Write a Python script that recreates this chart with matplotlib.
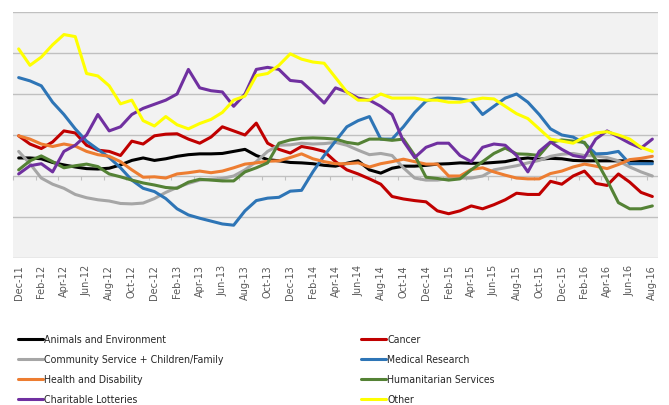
import numpy as np
import pandas as pd
import matplotlib
matplotlib.use("Agg")
import matplotlib.pyplot as plt

# months Dec-11 .. Aug-16
months = pd.date_range("2011-12-01", "2016-08-01", freq="MS").strftime("%b-%y").tolist()

animals = [4.4, 4.4, 4.2, 3.3, 2.7, 2.2, 1.8, 1.7, 1.9, 2.7, 3.8, 4.4, 3.8, 4.2, 4.8,
           5.2, 5.4, 5.4, 5.5, 6.0, 6.5, 5.0, 4.0, 3.7, 3.3, 3.2, 3.0, 2.6, 2.4, 3.1,
           3.7, 1.5, 0.7, 1.9, 2.4, 2.4, 2.6, 2.9, 3.0, 3.2, 3.1, 3.1, 3.3, 3.5, 4.1,
           4.4, 4.1, 4.3, 4.2, 3.8, 3.7, 3.7, 3.7, 3.7, 3.7, 3.6, 3.5]
cancer = [9.8, 7.8, 6.7, 8.3, 11.0, 10.5, 7.5, 6.3, 6.0, 5.0, 8.5, 7.8, 9.8, 10.2, 10.3,
          9.0, 8.0, 9.5, 12.0, 11.0, 10.0, 12.9, 8.0, 6.5, 5.6, 7.2, 6.7, 6.0, 3.5, 1.5,
          0.5, -0.7, -2.0, -5.0, -5.6, -6.0, -6.3, -8.5, -9.2, -8.5, -7.3, -8.0, -7.0, -5.8, -4.2,
          -4.5, -4.5, -1.3, -2.0, 0.0, 1.2, -1.8, -2.3, 0.5, -1.5, -4.0, -5.0]
community = [6.0, 3.0, -0.5, -2.0, -3.0, -4.5, -5.3, -5.8, -6.1, -6.7, -6.8, -6.6, -5.5, -4.0, -2.8,
             -1.8, -1.0, -0.8, -0.6, 0.0, 1.5, 3.5, 6.0, 7.5, 7.6, 8.0, 7.8, 7.9, 8.2, 7.5,
             6.3, 5.2, 5.5, 5.0, 2.0, -0.5, -1.0, -1.0, -0.6, -0.5, -0.5, 0.0, 1.5, 2.0, 2.5,
             3.2, 3.8, 4.8, 5.3, 5.5, 5.0, 4.9, 4.5, 3.7, 2.2, 1.0, 0.0]
medical = [24.0, 23.2, 22.0, 18.0, 15.0, 11.5, 8.5, 6.5, 4.5, 2.0, -1.0, -3.0, -3.8, -5.5, -8.0,
           -9.5, -10.3, -11.0, -11.7, -12.0, -8.5, -6.0, -5.4, -5.2, -3.7, -3.5, 1.0, 5.0, 8.5, 12.0,
           13.5, 14.5, 9.0, 9.0, 12.0, 15.5, 18.3, 19.0, 19.0, 18.8, 18.3, 15.0, 17.0, 19.0, 20.0,
           18.0, 15.0, 11.5, 10.0, 9.5, 8.0, 5.4, 5.5, 6.0, 3.0, 3.0, 3.0]
health = [9.8, 9.0, 7.8, 7.2, 7.8, 7.3, 6.0, 5.2, 4.8, 3.5, 1.5, -0.3, -0.2, -0.5, 0.5,
          0.8, 1.2, 0.8, 1.2, 2.0, 2.9, 3.2, 3.6, 3.7, 4.5, 5.4, 4.2, 3.5, 3.0, 3.0,
          3.2, 2.2, 3.0, 3.5, 4.1, 3.5, 2.9, 2.9, 0.0, 0.0, 1.6, 2.0, 1.0, 0.2, -0.5,
          -0.7, -0.7, 0.6, 1.2, 2.2, 2.9, 2.4, 1.8, 2.8, 4.0, 4.3, 4.8]
humanitarian = [1.5, 3.7, 4.9, 3.5, 2.0, 2.5, 2.9, 2.3, 0.5, -0.2, -1.0, -1.7, -2.2, -2.8, -3.0,
                -1.5, -0.8, -1.0, -1.2, -1.2, 1.0, 2.0, 3.2, 8.0, 8.8, 9.2, 9.3, 9.2, 9.0, 8.2,
                7.8, 9.0, 9.0, 8.7, 9.0, 5.0, -0.3, -0.6, -1.0, -0.7, 1.5, 3.5, 5.5, 6.8, 5.4,
                5.3, 5.0, 8.2, 8.8, 8.5, 8.2, 4.0, -1.0, -6.5, -8.0, -8.0, -7.3]
lotteries = [0.5, 2.5, 3.0, 1.0, 6.0, 7.5, 10.0, 15.0, 11.0, 12.0, 15.0, 16.5, 17.5, 18.5, 20.0,
             26.0, 21.5, 20.8, 20.5, 17.0, 20.0, 26.0, 26.5, 26.0, 23.3, 23.0, 20.5, 17.8, 21.5, 20.5,
             19.0, 18.5, 17.0, 15.0, 8.5, 4.5, 7.0, 8.0, 8.0, 5.0, 3.5, 7.0, 7.8, 7.5, 5.0,
             1.0, 6.0, 8.3, 6.5, 5.0, 4.5, 9.0, 11.0, 9.5, 8.0, 6.8, 9.0]
other = [31.0, 27.0, 29.0, 32.0, 34.5, 34.0, 25.0, 24.4, 22.0, 17.6, 18.5, 13.5, 12.2, 14.5, 12.5,
         11.5, 12.8, 13.8, 15.5, 18.5, 19.5, 24.5, 25.0, 27.0, 29.8, 28.5, 27.8, 27.5, 24.0, 20.5,
         18.5, 18.5, 20.0, 19.0, 19.0, 19.0, 18.5, 18.5, 18.0, 18.0, 18.5, 19.0, 18.8, 17.0, 15.2,
         14.0, 11.5, 9.0, 8.5, 8.0, 9.5, 10.5, 10.8, 10.0, 9.0, 7.0, 6.0]

series = [
    ("Animals and Environment", animals, "#000000"),
    ("Cancer", cancer, "#c00000"),
    ("Community Service + Children/Family", community, "#a6a6a6"),
    ("Medical Research", medical, "#2e75b6"),
    ("Health and Disability", health, "#ed7d31"),
    ("Humanitarian Services", humanitarian, "#548235"),
    ("Charitable Lotteries", lotteries, "#7030a0"),
    ("Other", other, "#ffff00"),
]

fig = plt.figure(figsize=(6.69, 4.05), dpi=100)
ax = fig.add_axes([13 / 669, 1 - 258 / 405, 645 / 669, 246 / 405])
ax.set_facecolor("#f2f2f2")

x = np.arange(len(months))
lines = {}
for name, vals, col in series:
    ln, = ax.plot(x, vals, color=col, lw=2.2, solid_capstyle="round",
                  solid_joinstyle="round")
    lines[name] = ln

ax.set_xlim(-0.5, len(months) - 0.5)
ax.set_ylim(-20, 40)
ax.set_yticks(np.arange(-20, 41, 10))
ax.grid(axis="y", color="#c0c0c0", lw=1)
ax.set_axisbelow(True)
ax.tick_params(axis="y", length=0, labelleft=False)
for s in ax.spines.values():
    s.set_visible(False)

ax.set_xticks(x[::2])
ax.set_xticklabels(months[::2], rotation=90, fontsize=7, color="#595959")
ax.tick_params(axis="x", length=0, pad=5)

# small ticks on the zero line
sec = ax.secondary_xaxis(1 / 3)
sec.set_xticks(np.arange(-0.5, len(months), 2))
sec.tick_params(axis="x", length=3, color="#c0c0c0", labelbottom=False, direction="out")
sec.spines["bottom"].set_visible(False)

leg_font = {"family": "DejaVu Sans", "stretch": "condensed", "size": 7.6}
left_names = ["Animals and Environment", "Community Service + Children/Family",
              "Health and Disability", "Charitable Lotteries"]
right_names = ["Cancer", "Medical Research", "Humanitarian Services", "Other"]
for names, xpos in [(left_names, 18 / 669), (right_names, 361 / 669)]:
    fig.legend([lines[n] for n in names], names, loc="upper left",
               bbox_to_anchor=(xpos, 1 - 335 / 405), frameon=False, prop=leg_font,
               handlelength=2.4, handletextpad=0.1, labelspacing=0.95, borderpad=0,
               borderaxespad=0, labelcolor="#262626")

fig.savefig("out.png", dpi=100)
